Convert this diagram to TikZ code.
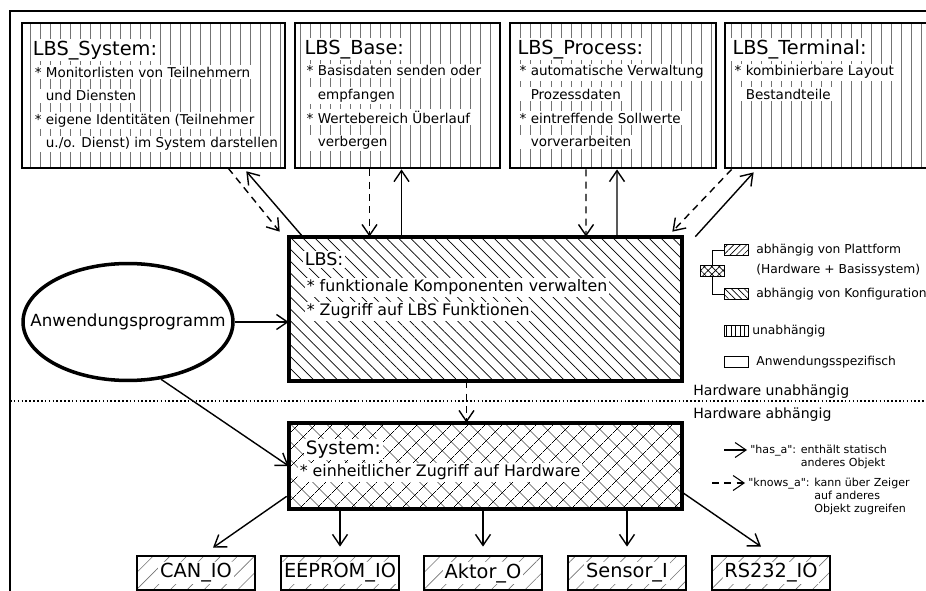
\documentclass[tikz,border=0pt]{standalone}
\usepackage{fontspec}
\setmainfont{DejaVu Sans}
\usetikzlibrary{positioning,shapes.geometric,patterns.meta,arrows.meta}
\setlength{\fboxsep}{1pt}
\newcommand{\wl}[1]{\colorbox{white}{#1}}
\newcommand{\ind}{\phantom{* }}

\begin{document}
\begin{tikzpicture}[x=0.02cm,y=-0.02cm]
\tikzstyle{outer}=[line width=1.1pt]
\tikzstyle{indep}=[draw,line width=1.6pt,minimum height=2.9cm,inner sep=0pt,pattern={Lines[angle=90,distance=5.7pt,line width=0.35pt]},pattern color=black!55]
\tikzstyle{config}=[draw,line width=2.2pt,minimum width=7.86cm,minimum height=2.88cm,inner sep=0pt,pattern={Lines[angle=-45,distance=4.8pt,line width=0.4pt]}]
\tikzstyle{mixed}=[draw,line width=2pt,minimum width=7.86cm,minimum height=1.72cm,inner sep=0pt,pattern={Hatch[angle=45,distance=7.4pt,line width=0.4pt]}]
\tikzstyle{platform}=[draw,line width=1.6pt,minimum width=2.36cm,minimum height=0.68cm,inner sep=0pt,pattern={Lines[angle=45,distance=6.8pt,line width=0.35pt]},pattern color=black!55,font=\fontsize{11}{13}\selectfont]
\tikzstyle{appl}=[draw,ellipse,line width=2pt,minimum width=4.2cm,minimum height=2.34cm,inner sep=0pt]
\tikzstyle{boxtitle}=[fill=white,inner sep=1pt,font=\fontsize{11}{13}\selectfont]
\tikzstyle{boxbody}=[align=left,inner sep=0pt,font=\fontsize{7.7}{13.4}\selectfont]
\tikzstyle{lgtext}=[anchor=west,inner sep=0pt,font=\fontsize{7}{7.5}\selectfont]
\tikzstyle{hwtext}=[anchor=west,inner sep=0pt,font=\fontsize{8}{9}\selectfont]
\tikzstyle{lgbox}=[draw,line width=0.5pt,minimum width=0.48cm,minimum height=0.22cm,inner sep=0pt]
\tikzstyle{has}=[-{Straight Barb[length=2.2mm,width=3mm]},line width=0.8pt]
\tikzstyle{knows}=[has,dash pattern=on 4pt off 3pt]
\useasboundingbox (0,0) rectangle (926,591);
\draw[outer] (10,11) rectangle (960,630);
\draw[line width=0.9pt,dash pattern=on 0.9pt off 1.3pt] (10,401) -- (960,401);

\node[indep,minimum width=5.26cm] (lsys) at (153.5,95.5) {};
\node[boxtitle,below right=0.32cm and 0.18cm of lsys.north west] (lsys-t) {LBS\_System:};
\node[boxbody,below right=0.84cm and 0.22cm of lsys.north west] (lsys-b) {\wl{* Monitorlisten von Teilnehmern}\\ \wl{\ind und Diensten}\\ \wl{* eigene Identitäten (Teilnehmer}\\ \wl{\ind u./o. Dienst) im System darstellen}};
\node[indep,minimum width=4.1cm] (lbase) at (397.5,95.5) {};
\node[boxtitle,below right=0.32cm and 0.18cm of lbase.north west] (lbase-t) {LBS\_Base:};
\node[boxbody,below right=0.84cm and 0.22cm of lbase.north west] (lbase-b) {\wl{* Basisdaten senden oder}\\ \wl{\ind empfangen}\\ \wl{* Wertebereich Überlauf}\\ \wl{\ind verbergen}};
\node[indep,minimum width=4.12cm] (lproc) at (613,95.5) {};
\node[boxtitle,below right=0.32cm and 0.14cm of lproc.north west] (lproc-t) {LBS\_Process:};
\node[boxbody,below right=0.84cm and 0.18cm of lproc.north west] (lproc-b) {\wl{* automatische Verwaltung}\\ \wl{\ind Prozessdaten}\\ \wl{* eintreffende Sollwerte}\\ \wl{\ind vorverarbeiten}};
\node[indep,minimum width=4.6cm] (lterm) at (840,95.5) {};
\node[boxtitle,below right=0.32cm and 0.14cm of lterm.north west] (lterm-t) {LBS\_Terminal:};
\node[boxbody,below right=0.84cm and 0.18cm of lterm.north west] (lterm-b) {\wl{* kombinierbare Layout}\\ \wl{\ind Bestandteile}};

\node[config] (lbs) at (485.5,309) {};
\node[boxtitle,font=\fontsize{10}{12}\selectfont,below right=0.28cm and 0.28cm of lbs.north west] (lbs-t) {LBS:};
\node[boxbody,font=\fontsize{9}{13.6}\selectfont,below right=0.82cm and 0.32cm of lbs.north west] (lbs-b) {\wl{* funktionale Komponenten verwalten}\\ \wl{* Zugriff auf LBS Funktionen}};
\node[mixed] (sys) at (485.5,466) {};
\node[boxtitle,font=\fontsize{10.5}{12}\selectfont,below right=0.32cm and 0.3cm of sys.north west] (sys-t) {System:};
\node[boxbody,font=\fontsize{9}{13.6}\selectfont,below right=0.8cm and 0.18cm of sys.north west] (sys-b) {\wl{* einheitlicher Zugriff auf Hardware}};

\node[appl] (app) at (128,322) {};
\node[font=\fontsize{9.5}{11}\selectfont] (app-t) at (app) {Anwendungsprogramm};

\node[platform] (can) at (196,573) {\wl{CAN\_IO}};
\node[platform] (eep) at (340,573) {\wl{EEPROM\_IO}};
\node[platform] (akt) at (483,573) {\wl{Aktor\_O}};
\node[platform] (sen) at (627,573) {\wl{Sensor\_I}};
\node[platform] (rs) at (771,573) {\wl{RS232\_IO}};

\draw[knows] ([shift={(-57,0)}]lsys.south east) -- ([shift={(-9,-5)}]lbs.north west);
\draw[has] ([shift={(14,0)}]lbs.north west) -- ([shift={(-39,3)}]lsys.south east);
\draw[knows] ([shift={(-28,0)}]lbase.south) -- ([shift={(-116,0)}]lbs.north);
\draw[has] ([shift={(-84,0)}]lbs.north) -- ([shift={(4,0)}]lbase.south);
\draw[knows] ([shift={(-27,0)}]lproc.south) -- ([shift={(100.5,0)}]lbs.north);
\draw[has] ([shift={(131.5,0)}]lbs.north) -- ([shift={(4,0)}]lproc.south);
\draw[knows] ([shift={(8,0)}]lterm.south west) -- ([shift={(-10,-5)}]lbs.north east);
\draw[has] ([shift={(13,0)}]lbs.north east) -- ([shift={(30,3)}]lterm.south west);
\draw[knows] ([shift={(-19,0)}]lbs.south) -- ([shift={(-19,0)}]sys.north);
\draw[has] (app.east) -- (app.east -| lbs.west);
\draw[has] (app.-60) -- (sys.west);
\draw[has] ([shift={(-2,-13)}]sys.south west) -- ([shift={(17,-8)}]can.north);
\draw[has,shorten >=0.16cm] (sys.south -| eep.north) -- (eep.north);
\draw[has,shorten >=0.16cm] (sys.south -| akt.north) -- (akt.north);
\draw[has,shorten >=0.16cm] (sys.south -| sen.north) -- (sen.north);
\draw[has] ([shift={(0,-17)}]sys.south east) -- ([shift={(-10,-8)}]rs.north);

\node[lgbox,pattern={Hatch[angle=45,distance=3pt,line width=0.35pt]}] (lg-x) at (712,271) {};
\node[lgbox,pattern={Lines[angle=45,distance=2.6pt,line width=0.35pt]}] (lg-p) at (736,250) {};
\node[lgbox,pattern={Lines[angle=-45,distance=2.6pt,line width=0.35pt]}] (lg-c) at (736,294) {};
\node[lgbox,pattern={Lines[angle=90,distance=2.6pt,line width=0.35pt]}] (lg-i) at (736,331) {};
\node[lgbox] (lg-a) at (736,362) {};
\draw[line width=0.4pt] (lg-x.north) |- (lg-p.west);
\draw[line width=0.4pt] (lg-x.south) |- (lg-c.west);
\node[lgtext] (lg-pt) at (756,250) {abhängig von Plattform};
\node[lgtext] (lg-ht) at (756,270) {(Hardware + Basissystem)};
\node[lgtext] (lg-ct) at (756,294) {abhängig von Konfiguration};
\node[lgtext] (lg-it) at (752,331) {unabhängig};
\node[lgtext] (lg-at) at (756,362) {Anwendungsspezifisch};
\node[hwtext] (hw-u) at (693,392) {Hardware unabhängig};
\node[hwtext] (hw-a) at (693,415) {Hardware abhängig};

\coordinate (ha-a) at (724,450);
\coordinate (ha-b) at (747,450);
\draw[has,line width=0.6pt] (ha-a) -- (ha-b);
\node[lgtext,font=\fontsize{6.3}{7.4}\selectfont,anchor=base west] (ha-t) at (750,453) {\begin{tabular}[t]{@{}l@{ }l@{}}\textquotedbl has\_a\textquotedbl: & enthält statisch\\ & anderes Objekt\end{tabular}};
\coordinate (kn-a) at (712,483);
\coordinate (kn-b) at (745,483);
\draw[knows,line width=0.6pt] (kn-a) -- (kn-b);
\node[lgtext,font=\fontsize{6.3}{7.4}\selectfont,anchor=base west] (kn-t) at (748,486) {\begin{tabular}[t]{@{}l@{ }l@{}}\textquotedbl knows\_a\textquotedbl: & kann über Zeiger\\ & auf anderes\\ & Objekt zugreifen\end{tabular}};
\end{tikzpicture}
\end{document}
